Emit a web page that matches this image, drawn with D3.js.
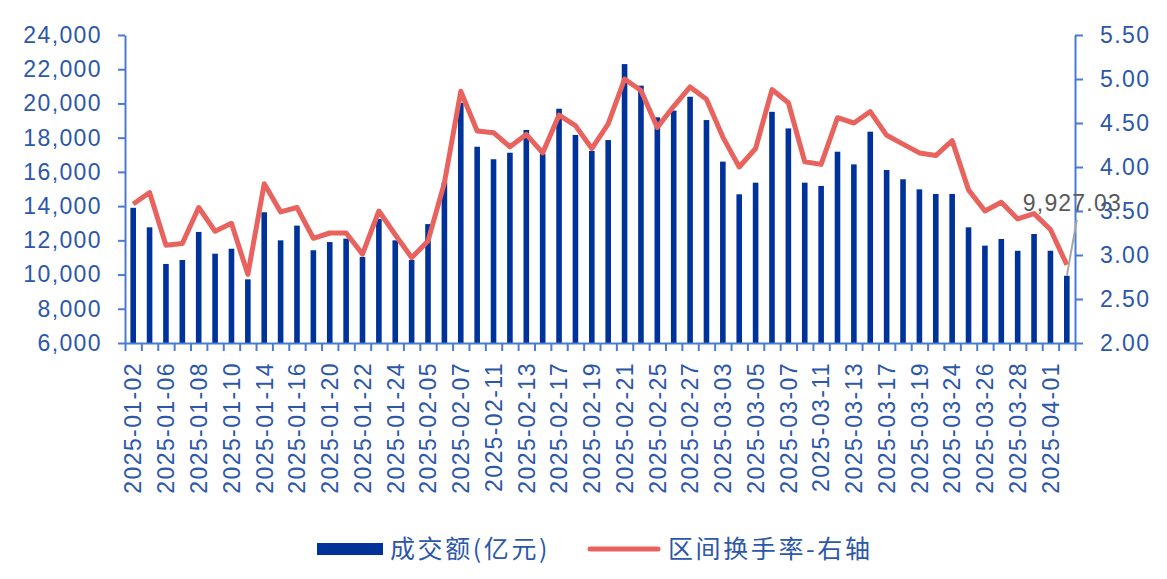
<!DOCTYPE html>
<html>
<head>
<meta charset="utf-8">
<script src="https://cdn.jsdelivr.net/npm/d3@7"></script>
<style>
    body { margin: 0; background: #fff; }
    text { font-family: "Liberation Sans", Arial, "Noto Sans CJK SC", sans-serif; }
</style>
</head>
<body>
<div id="chart"></div>
<script>
// trading days (2025)
var dates = [
    "2025-01-02", "2025-01-03", "2025-01-06", "2025-01-07", "2025-01-08", "2025-01-09", "2025-01-10",
    "2025-01-13", "2025-01-14", "2025-01-15", "2025-01-16", "2025-01-17", "2025-01-20", "2025-01-21",
    "2025-01-22", "2025-01-23", "2025-01-24", "2025-01-27", "2025-02-05", "2025-02-06", "2025-02-07",
    "2025-02-10", "2025-02-11", "2025-02-12", "2025-02-13", "2025-02-14", "2025-02-17", "2025-02-18",
    "2025-02-19", "2025-02-20", "2025-02-21", "2025-02-24", "2025-02-25", "2025-02-26", "2025-02-27",
    "2025-02-28", "2025-03-03", "2025-03-04", "2025-03-05", "2025-03-06", "2025-03-07", "2025-03-10",
    "2025-03-11", "2025-03-12", "2025-03-13", "2025-03-14", "2025-03-17", "2025-03-18", "2025-03-19",
    "2025-03-20", "2025-03-24", "2025-03-25", "2025-03-26", "2025-03-27", "2025-03-28", "2025-03-31",
    "2025-04-01", "2025-04-02"
];

// 成交额(亿元)
var turnover = [
    13900, 12760, 10620, 10850, 12490, 11220, 11510, 9720, 13640, 12000,
    12860, 11420, 11900, 12100, 11030, 13250, 12000, 10850, 12950, 15390,
    20040, 17470, 16740, 17120, 18450, 17050, 19690, 18160, 17220, 17860,
    22300, 21040, 19190, 19580, 20390, 19030, 16600, 14690, 15370, 19510,
    18540, 15370, 15180, 17180, 16440, 18350, 16110, 15570, 14980, 14710,
    14710, 12760, 11690, 12080, 11390, 12370, 11390, 9927.03
];

// 区间换手率-右轴
var turnoverRate = [
    3.58, 3.71, 3.11, 3.13, 3.54, 3.27, 3.36, 2.78, 3.81, 3.49,
    3.54, 3.19, 3.25, 3.25, 3.01, 3.50, 3.23, 2.97, 3.16, 3.82,
    4.86, 4.41, 4.39, 4.23, 4.37, 4.16, 4.59, 4.47, 4.21, 4.49,
    5.00, 4.87, 4.45, 4.69, 4.91, 4.77, 4.34, 4.00, 4.21, 4.88,
    4.73, 4.06, 4.03, 4.56, 4.50, 4.63, 4.36, 4.26, 4.16, 4.13,
    4.30, 3.74, 3.50, 3.60, 3.41, 3.47, 3.29, 2.89
];

var leftTicks = [6000, 8000, 10000, 12000, 14000, 16000, 18000, 20000, 22000, 24000];
var rightTicks = [2.0, 2.5, 3.0, 3.5, 4.0, 4.5, 5.0, 5.5];
var legendNames = ["成交额(亿元)", "区间换手率-右轴"];

var barColor = "#003399",
    lineColor = "#E8625E",
    axisColor = "#4A7BD3",
    textColor = "#2C57AA";

var margin = { top: 35, left: 125, bottom: 236, right: 92 };
var width = 1167 - margin.left - margin.right;
var height = 579 - margin.top - margin.bottom;

var svg = d3.select("#chart").append("svg")
    .attr("width", 1167)
    .attr("height", 579)
    .append("g")
    .attr("transform", "translate(" + margin.left + ", " + margin.top + ")");

var xScale = d3.scaleBand()
    .domain(dates)
    .range([0, width]);

var yLeft = d3.scaleLinear()
    .domain([6000, 24000])
    .range([height, 0]);

var yRight = d3.scaleLinear()
    .domain([2, 5.5])
    .range([height, 0]);

// bars
svg.selectAll(".bar")
    .data(dates)
    .enter().append("rect")
    .attr("class", "bar")
    .attr("x", function (d) { return xScale(d) + xScale.bandwidth() / 2 - 2.8; })
    .attr("width", 5.6)
    .attr("y", function (d, i) { return yLeft(turnover[i]); })
    .attr("height", function (d, i) { return height - yLeft(turnover[i]); })
    .attr("fill", barColor);

// turnover rate line
var rateLine = d3.line()
    .x(function (d, i) { return xScale(dates[i]) + xScale.bandwidth() / 2; })
    .y(function (d) { return yRight(d); });

svg.append("path")
    .datum(turnoverRate)
    .attr("fill", "none")
    .attr("stroke", lineColor)
    .attr("stroke-width", 5)
    .attr("stroke-linejoin", "round")
    .attr("d", rateLine);

// left axis
var leftAxis = svg.append("g")
    .call(d3.axisLeft(yLeft).tickValues(leftTicks).tickFormat(d3.format(",")).tickSize(7).tickSizeOuter(0).tickPadding(16));

// right axis
var rightAxis = svg.append("g")
    .attr("transform", "translate(" + width + ",0)")
    .call(d3.axisRight(yRight).tickValues(rightTicks).tickFormat(d3.format(".2f")).tickSize(8).tickSizeOuter(0).tickPadding(17));

// x axis: ticks between categories
var xTicks = d3.scaleLinear().domain([0, dates.length]).range([0, width]);
var bottomAxis = svg.append("g")
    .attr("transform", "translate(0," + height + ")")
    .call(d3.axisBottom(xTicks).tickValues(d3.range(dates.length + 1)).tickFormat("").tickSize(8).tickSizeOuter(0));

// x labels, every other day
var labelAxis = svg.append("g")
    .attr("transform", "translate(0," + height + ")")
    .call(d3.axisBottom(xScale).tickValues(dates.filter(function (d, i) { return i % 2 === 0; })).tickSize(0));
labelAxis.select(".domain").remove();
labelAxis.selectAll("text")
    .attr("transform", "rotate(-90)")
    .attr("x", -19)
    .attr("y", 0)
    .attr("dy", "0.36em")
    .style("text-anchor", "end");

[leftAxis, rightAxis, bottomAxis].forEach(function (g) {
    g.selectAll(".domain").attr("stroke", axisColor).attr("stroke-width", 2);
    g.selectAll(".tick line").attr("stroke", axisColor).attr("stroke-width", 2);
});

[leftAxis, rightAxis, labelAxis].forEach(function (g) {
    g.selectAll("text")
        .attr("fill", textColor)
        .style("font-size", "23px")
        .style("letter-spacing", "1.4px");
});

// value label on the last bar (sits over the right axis, as in the source)
var lastX = xScale(dates[dates.length - 1]) + xScale.bandwidth() / 2;
var lastY = yLeft(turnover[turnover.length - 1]);
svg.append("line")
    .attr("x1", lastX)
    .attr("y1", lastY)
    .attr("x2", lastX + 10)
    .attr("y2", lastY - 56)
    .attr("stroke", "#A6A6A6")
    .attr("stroke-width", 2);
svg.append("text")
    .attr("x", lastX - 44)
    .attr("y", lastY - 65)
    .attr("fill", "#595959")
    .style("font-size", "23px")
    .style("letter-spacing", "1.2px")
    .text(d3.format(",.2f")(turnover[turnover.length - 1]));

// legend
var legend = d3.select("svg").append("g");
legend.append("rect")
    .attr("x", 317)
    .attr("y", 543)
    .attr("width", 66)
    .attr("height", 12)
    .attr("fill", barColor);
legend.append("text")
    .attr("x", 390)
    .attr("y", 558)
    .attr("fill", textColor)
    .style("font-size", "25px")
    .style("letter-spacing", "2.6px")
    .style("font-family", "'Noto Sans CJK SC', sans-serif")
    .text(legendNames[0]);
legend.append("line")
    .attr("x1", 590)
    .attr("x2", 658)
    .attr("y1", 549)
    .attr("y2", 549)
    .attr("stroke", lineColor)
    .attr("stroke-width", 5)
    .attr("stroke-linecap", "round");
legend.append("text")
    .attr("x", 668)
    .attr("y", 558)
    .attr("fill", textColor)
    .style("font-size", "25px")
    .style("letter-spacing", "2.6px")
    .style("font-family", "'Noto Sans CJK SC', sans-serif")
    .text(legendNames[1]);
</script>
</body>
</html>
